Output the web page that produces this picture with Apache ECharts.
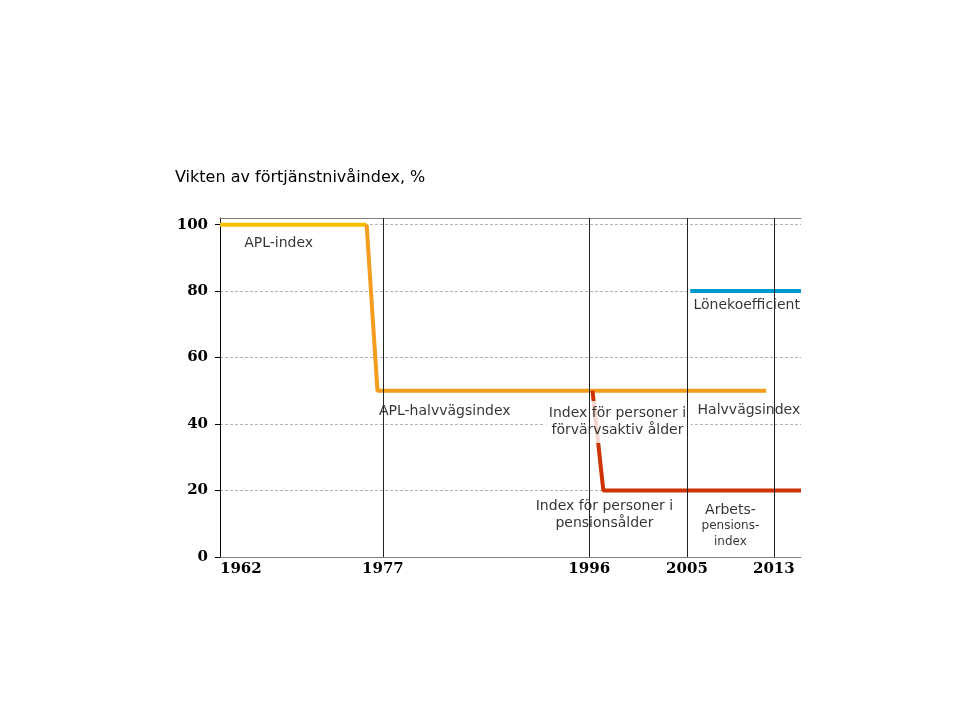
<!DOCTYPE html>
<html>
<head>
<meta charset="utf-8">
<script src="https://cdn.jsdelivr.net/npm/echarts@6/dist/echarts.min.js"></script>
<style>
html, body { margin: 0; background: #ffffff; }
#main { width: 960px; height: 720px; }
</style>
</head>
<body>
<div id="main"></div>
<script>
// värden (år, vikt %)
var aplIndex = [[1962, 100], [1975.5, 100]];
var aplHalvvag = [[1975.5, 100], [1976.5, 50], [2012.3, 50]];
var arbetsIndex = [[1996.3, 50], [1997.3, 20], [2015.5, 20]];
var loneKoeff = [[2005.3, 80], [2015.5, 80]];

var xTicks = [1962, 1977, 1996, 2005, 2013];
var yTicks = [0, 20, 40, 60, 80, 100];
var reformYears = [1977, 1996, 2005, 2013];

// textetiketter: [år, värde, text]
var textLabels = [
    [1967.4, 94.5, 'APL-index'],
    [1982.7, 43.9, 'APL-halvvägsindex'],
    [2010.7, 44.2, 'Halvvägsindex'],
    [2010.5, 75.8, 'Lönekoefficient'],
    [1997.4, 12.6, 'Index för personer i\npensionsålder']
];
var boxLabel = [1998.6, 40.6, 'Index för personer i\nförvärvsaktiv ålder'];
var arbetsLabel = [2009.0, 9.3, '{a|Arbets-}\n{b|pensions-}\n{b|index}'];

var myChart = echarts.init(document.getElementById('main'));

var labelData = textLabels.map(function (t) {
    return { value: [t[0], t[1]], label: { formatter: t[2] } };
});
labelData.push({
    value: [boxLabel[0], boxLabel[1]],
    label: { formatter: boxLabel[2], backgroundColor: '#ffffff', padding: [4, 5] }
});
labelData.push({
    value: [arbetsLabel[0], arbetsLabel[1]],
    label: {
        formatter: arbetsLabel[2],
        rich: {
            a: { fontSize: 14, lineHeight: 16, color: '#000000', fontFamily: 'DejaVu Sans' },
            b: { fontSize: 12, lineHeight: 16, color: '#000000', fontFamily: 'DejaVu Sans' }
        }
    }
});

var option = {
    animation: false,
    backgroundColor: '#ffffff',
    title: {
        text: 'Vikten av förtjänstnivåindex, %',
        left: 170,
        top: 165,
        textStyle: { fontFamily: 'DejaVu Sans', fontSize: 16, fontWeight: 'normal', color: '#000000' }
    },
    grid: { left: 220, right: 159, top: 218, bottom: 163 },
    xAxis: [
        {
            type: 'value',
            min: 1962,
            max: 2015.5,
            axisLine: { show: true, lineStyle: { color: '#808080', width: 1 } },
            axisTick: { show: false },
            splitLine: { show: false },
            axisLabel: {
                customValues: xTicks,
                alignMinLabel: 'left',
                formatter: function (v) { return String(v); },
                margin: 5,
                color: '#000000',
                fontFamily: 'DejaVu Serif',
                fontWeight: 'bold',
                fontSize: 15
            }
        },
        {
            type: 'value',
            position: 'top',
            min: 1962,
            max: 2015.5,
            axisLine: { show: true, lineStyle: { color: '#808080', width: 1 } },
            axisTick: { show: false },
            axisLabel: { show: false },
            splitLine: { show: false }
        }
    ],
    yAxis: {
        type: 'value',
        min: 0,
        max: 102,
        interval: 20,
        axisLine: { show: true, lineStyle: { color: '#000000', width: 1 } },
        axisTick: { show: true, customValues: yTicks, length: 5, lineStyle: { color: '#000000' } },
        axisLabel: {
            customValues: yTicks,
            margin: 12,
            color: '#000000',
            fontFamily: 'DejaVu Serif',
            fontWeight: 'bold',
            fontSize: 15
        },
        splitLine: { show: true, lineStyle: { color: '#b4b4b4', type: [3, 2], width: 1 } }
    },
    series: [
        {
            name: 'APL-index',
            type: 'line',
            data: aplIndex,
            showSymbol: false,
            z: 3,
            lineStyle: { color: '#ffc000', width: 4 }
        },
        {
            name: 'APL-halvvägsindex',
            type: 'line',
            data: aplHalvvag,
            showSymbol: false,
            z: 3,
            lineStyle: { color: '#f39c1e', width: 4 }
        },
        {
            name: 'Arbetspensionsindex',
            type: 'line',
            data: arbetsIndex,
            showSymbol: false,
            z: 3,
            lineStyle: { color: '#cc3300', width: 4 }
        },
        {
            name: 'Lönekoefficient',
            type: 'line',
            data: loneKoeff,
            showSymbol: false,
            z: 3,
            lineStyle: { color: '#0099cc', width: 4 }
        },
        {
            // etiketter
            type: 'scatter',
            symbolSize: 1,
            z: 4,
            silent: true,
            itemStyle: { color: 'rgba(0,0,0,0)' },
            label: {
                show: true,
                position: 'inside',
                align: 'center',
                verticalAlign: 'middle',
                fontFamily: 'DejaVu Sans',
                fontSize: 14,
                lineHeight: 17,
                color: '#000000'
            },
            data: labelData
        },
        {
            // lodräta linjer vid reformåren
            type: 'line',
            data: [],
            z: 10,
            markLine: {
                z: 20,
                silent: true,
                symbol: ['none', 'none'],
                label: { show: false },
                lineStyle: { color: '#222222', width: 1, type: 'solid' },
                data: reformYears.map(function (y) { return { xAxis: y }; })
            }
        }
    ]
};

myChart.setOption(option);
</script>
</body>
</html>
